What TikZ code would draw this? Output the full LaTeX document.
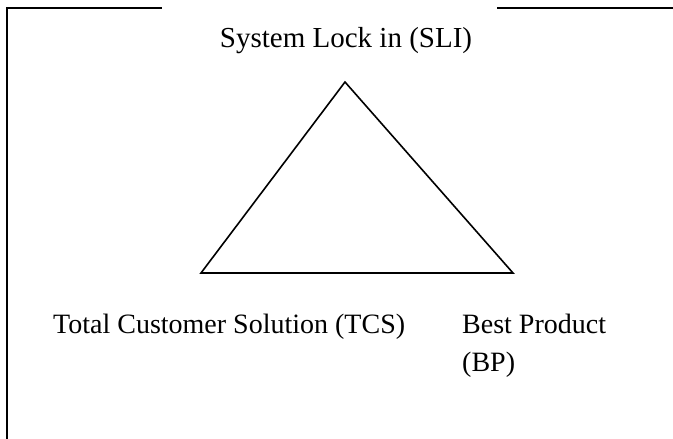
\documentclass[tikz,border=0pt]{standalone}
\usepackage{fontspec}
\setmainfont{Liberation Serif}
\begin{document}
\begin{tikzpicture}[x=1pt,y=-1pt,
  lbl/.style={inner sep=0pt,font=\fontsize{28}{38}\selectfont,anchor=base west},
  edge/.style={line width=1.6pt,line join=miter}]
\useasboundingbox (0,0) rectangle (673,439);
\coordinate (tl) at (7,8);
\coordinate (bl) at (7,439);
\coordinate (t1) at (162,8);
\coordinate (t2) at (497,8);
\coordinate (tr) at (673,8);
\draw[line width=1.2pt] (bl) -- (tl) -- (t1);
\draw[line width=1.6pt] (t2) -- (tr);
\coordinate (apex) at (345,82);
\coordinate (bleft) at (201,273);
\coordinate (bright) at (513,273);
\draw[edge] (apex) -- (bleft) -- (bright) -- cycle;
\node[lbl,anchor=base,font=\fontsize{29}{38}\selectfont] (sli) at (346,47) {System Lock in (SLI)};
\node[lbl] (tcs) at (53,333) {Total Customer Solution (TCS)};
\node[lbl] (bp1) at (462,333) {Best Product};
\node[lbl] (bp2) at (462,371) {(BP)};
\end{tikzpicture}
\end{document}
